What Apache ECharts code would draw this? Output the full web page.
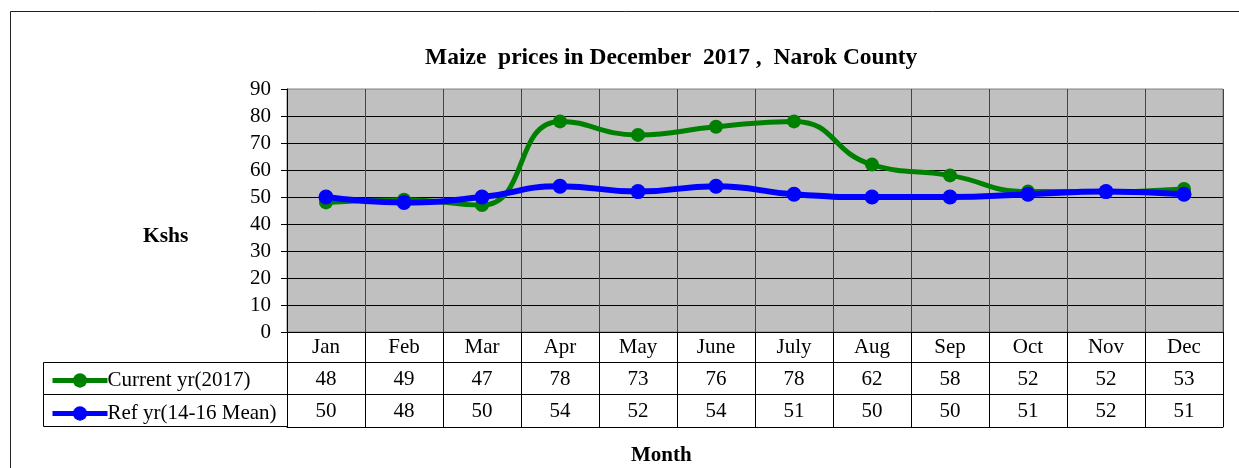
<!DOCTYPE html>
<html>
<head>
<meta charset="utf-8">
<script src="https://cdn.jsdelivr.net/npm/echarts@6/dist/echarts.min.js"></script>
<style>
  html, body { margin: 0; padding: 0; background: #fff; }
  #main { width: 1239px; height: 468px; }
</style>
</head>
<body>
<div id="main"></div>
<script>
// 数据
var months = ['Jan', 'Feb', 'Mar', 'Apr', 'May', 'June', 'July', 'Aug', 'Sep', 'Oct', 'Nov', 'Dec'];
var currentYr = [48, 49, 47, 78, 73, 76, 78, 62, 58, 52, 52, 53];
var refYr = [50, 48, 50, 54, 52, 54, 51, 50, 50, 51, 52, 51];
var yTicks = [0, 10, 20, 30, 40, 50, 60, 70, 80, 90];

var font = 'Liberation Serif';
var fs = 21;

var chartDom = document.getElementById('main');
var myChart = echarts.init(chartDom);

var gridLeft = 287, gridTop = 89, gridRight = 16, gridBottom = 136;

var option = {
  animation: false,
  backgroundColor: '#fff',
  title: {
    text: 'Maize  prices in December  2017 ,  Narok County',
    left: 420,
    top: 41,
    textStyle: { fontFamily: font, fontSize: 23.5, fontWeight: 'bold', color: '#000' }
  },
  legend: [
    {
      data: ['Current yr(2017)'],
      left: 45, top: 365,
      itemWidth: 55, itemHeight: 18,
      itemGap: 0,
      lineStyle: { width: 5 },
      textStyle: { fontFamily: font, fontSize: fs, color: '#000', padding: [0, 0, 0, -5] }
    },
    {
      data: ['Ref yr(14-16 Mean)'],
      left: 45, top: 398,
      itemWidth: 55, itemHeight: 18,
      itemGap: 0,
      lineStyle: { width: 5 },
      textStyle: { fontFamily: font, fontSize: fs, color: '#000', padding: [0, 0, 0, -5] }
    }
  ],
  grid: {
    left: gridLeft, top: gridTop, right: gridRight, bottom: gridBottom,
    show: true,
    backgroundColor: '#c0c0c0',
    borderColor: '#808080',
    borderWidth: 1
  },
  graphic: [
    // 外框
    { type: 'rect', shape: { x: 10.5, y: 11.5, width: 1260, height: 500 },
      style: { fill: 'none', stroke: '#222', lineWidth: 1 }, silent: true },
    // 左侧图例格
    { type: 'rect', shape: { x: 43.5, y: 362.5, width: 244, height: 64 },
      style: { fill: 'none', stroke: '#000', lineWidth: 1 }, silent: true },
    { type: 'line', shape: { x1: 43.5, y1: 394.5, x2: 287, y2: 394.5 },
      style: { stroke: '#000', lineWidth: 1 }, silent: true },
    { type: 'text', left: 143, top: 225,
      style: { text: 'Kshs', fontFamily: font, fontSize: 21.5, fontWeight: 'bold', fill: '#000' } },
    { type: 'text', left: 631, top: 445,
      style: { text: 'Month', fontFamily: font, fontSize: 21, fontWeight: 'bold', fill: '#000' } }
  ],
  xAxis: [
    {
      type: 'category',
      data: months,
      boundaryGap: true,
      position: 'bottom',
      axisLine: { show: true, lineStyle: { color: '#000', width: 1 } },
      axisTick: { show: true, length: 95, inside: false, lineStyle: { color: '#000' } },
      axisLabel: { fontFamily: font, fontSize: fs, color: '#000', margin: 5, interval: 0 },
      splitLine: { show: true, lineStyle: { color: '#444', width: 1 } }
    },
    {
      type: 'category',
      data: months,
      position: 'bottom',
      offset: 30,
      axisLine: { show: true, lineStyle: { color: '#000', width: 1 } },
      axisTick: { show: false },
      axisLabel: {
        fontFamily: font, fontSize: fs, color: '#000', margin: 7, interval: 0,
        formatter: function (v, i) { return String(currentYr[i]); }
      },
      splitLine: { show: false }
    },
    {
      type: 'category',
      data: months,
      position: 'bottom',
      offset: 62,
      axisLine: { show: true, lineStyle: { color: '#000', width: 1 } },
      axisTick: { show: false },
      axisLabel: {
        fontFamily: font, fontSize: fs, color: '#000', margin: 7, interval: 0,
        formatter: function (v, i) { return String(refYr[i]); }
      },
      splitLine: { show: false }
    },
    {
      type: 'category',
      data: months,
      position: 'bottom',
      offset: 95,
      axisLine: { show: true, lineStyle: { color: '#000', width: 1 } },
      axisTick: { show: false },
      axisLabel: { show: false },
      splitLine: { show: false }
    }
  ],
  yAxis: {
    type: 'value',
    min: yTicks[0],
    max: yTicks[yTicks.length - 1],
    interval: 10,
    axisLine: { show: true, lineStyle: { color: '#000', width: 1 } },
    axisTick: { show: true, length: 6, lineStyle: { color: '#000' } },
    axisLabel: { fontFamily: font, fontSize: fs, color: '#000', margin: 16 },
    splitLine: { show: true, showMaxLine: false, showMinLine: false, lineStyle: { color: '#000', width: 1 } }
  },
  series: [
    {
      name: 'Current yr(2017)',
      type: 'line',
      data: currentYr,
      smooth: 0.5,
      symbol: 'circle',
      symbolSize: 14,
      itemStyle: { color: '#008000' },
      lineStyle: { color: '#008000', width: 5 }
    },
    {
      name: 'Ref yr(14-16 Mean)',
      type: 'line',
      data: refYr,
      smooth: 0.5,
      symbol: 'circle',
      symbolSize: 15,
      itemStyle: { color: '#0000ff' },
      lineStyle: { color: '#0000ff', width: 6 }
    }
  ]
};
myChart.setOption(option);
</script>
</body>
</html>
